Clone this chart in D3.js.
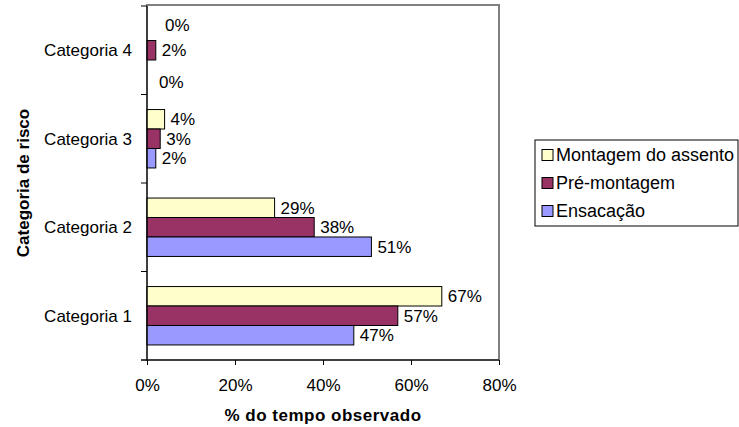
<!DOCTYPE html>
<html>
<head>
<meta charset="utf-8">
<script src="https://cdn.jsdelivr.net/npm/d3@7"></script>
<style>
  html, body { margin: 0; padding: 0; background: #fff; }
  svg { display: block; font-family: "Liberation Sans", Arial, sans-serif; }
</style>
</head>
<body>
<svg id="chart" width="739" height="427"></svg>
<script>
// Risk categories, listed top to bottom as drawn
const categories = ["Categoria 4", "Categoria 3", "Categoria 2", "Categoria 1"];
// Series, listed top to bottom inside each group
const seriesNames = ["Montagem do assento", "Pré-montagem", "Ensacação"];
const seriesColors = ["#FFFFCC", "#993366", "#9999FF"];
// Share of observed time (%) per category, one array per series
const montagemValues = [0, 4, 29, 67];
const preMontagemValues = [2, 3, 38, 57];
const ensacacaoValues = [0, 2, 51, 47];
const xTicks = [0, 20, 40, 60, 80];

const seriesValues = [montagemValues, preMontagemValues, ensacacaoValues];

const svg = d3.select("#chart");
const plot = { left: 147, right: 499, top: 6, bottom: 360 };

const x = d3.scaleLinear().domain([0, 80]).range([plot.left, plot.right]);
const y = d3.scaleBand().domain(categories).range([plot.top, plot.bottom]).padding(0);
const bw = y.bandwidth();
const ySeries = d3.scaleBand().domain(seriesNames)
  .range([bw * 0.17, bw * 0.83]).padding(0);

// Plot frame (grey top and right edges)
svg.append("rect")
  .attr("x", plot.left).attr("y", plot.top - 1)
  .attr("width", plot.right - plot.left).attr("height", plot.bottom - plot.top + 1)
  .attr("fill", "none").attr("stroke", "#808080").attr("stroke-width", 2);

// Bars
const rows = [];
categories.forEach((c, ci) => {
  seriesNames.forEach((s, si) => {
    rows.push({ cat: c, series: s, si, value: seriesValues[si][ci] });
  });
});

const groups = svg.append("g");
groups.selectAll("rect.bar").data(rows).enter().append("rect")
  .attr("class", "bar")
  .attr("x", x(0))
  .attr("y", d => y(d.cat) + ySeries(d.series))
  .attr("width", d => x(d.value) - x(0))
  .attr("height", ySeries.bandwidth())
  .attr("fill", d => seriesColors[d.si])
  .attr("stroke", d => d.value > 0 ? "#000" : "none")
  .attr("stroke-width", 1);

// Value labels; labels of empty bars are nudged away from the group centre
groups.selectAll("text.val").data(rows).enter().append("text")
  .attr("class", "val")
  .attr("x", d => x(d.value) + 6 + (d.value === 0 ? (d.si === 0 ? 12 : 6) : 0))
  .attr("y", d => {
    const cy = y(d.cat) + ySeries(d.series) + ySeries.bandwidth() / 2;
    if (d.value !== 0) return cy;
    return d.si === 0 ? cy - 6 : cy + 12;
  })
  .attr("dy", "0.35em")
  .attr("font-size", 17)
  .attr("fill", "#000")
  .text(d => d.value + "%");

// Y axis
const yAxis = svg.append("g").attr("transform", `translate(${plot.left},0)`);
yAxis.append("line")
  .attr("x1", 0).attr("x2", 0).attr("y1", plot.top).attr("y2", plot.bottom)
  .attr("stroke", "#000");
const yBounds = categories.map(c => y(c)).concat([plot.bottom]);
yAxis.selectAll("line.tick").data(yBounds).enter().append("line")
  .attr("class", "tick")
  .attr("x1", -6).attr("x2", 0).attr("y1", d => d).attr("y2", d => d)
  .attr("stroke", "#000");
yAxis.selectAll("text").data(categories).enter().append("text")
  .attr("x", -15)
  .attr("y", d => y(d) + bw / 2)
  .attr("dy", "0.35em")
  .attr("text-anchor", "end")
  .attr("font-size", 17)
  .text(d => d);

// X axis
const xAxis = svg.append("g").attr("transform", `translate(0,${plot.bottom})`)
  .call(d3.axisBottom(x).tickValues(xTicks).tickSize(5).tickPadding(14)
    .tickFormat(d => d + "%"));
xAxis.select(".domain").attr("stroke", "#000").attr("d", `M${plot.left - 6},0H${plot.right}`);
xAxis.selectAll(".tick line").attr("stroke", "#000");
xAxis.selectAll(".tick text")
  .attr("font-size", 17).attr("font-family", "Liberation Sans, Arial, sans-serif")
  .attr("fill", "#000");

// Axis titles
svg.append("text")
  .attr("x", (plot.left + plot.right) / 2)
  .attr("y", 421)
  .attr("text-anchor", "middle")
  .attr("font-size", 17).attr("font-weight", "bold")
  .attr("letter-spacing", "0.5px")
  .text("% do tempo observado");

svg.append("text")
  .attr("transform", `translate(29,${(plot.top + plot.bottom) / 2}) rotate(-90)`)
  .attr("text-anchor", "middle")
  .attr("font-size", 17).attr("font-weight", "bold")
  .text("Categoria de risco");

// Legend
const legend = svg.append("g").attr("transform", "translate(535,140)");
legend.append("rect")
  .attr("x", 0).attr("y", 0).attr("width", 203).attr("height", 86)
  .attr("fill", "#fff").attr("stroke", "#000");
const legendRow = d3.scaleBand().domain(seriesNames).range([1, 85]);
const items = legend.selectAll("g.item").data(seriesNames).enter().append("g")
  .attr("class", "item")
  .attr("transform", d => `translate(0,${legendRow(d) + legendRow.bandwidth() / 2})`);
items.append("rect")
  .attr("x", 7).attr("y", -5.5).attr("width", 11).attr("height", 11)
  .attr("fill", (d, i) => seriesColors[i]).attr("stroke", "#000");
items.append("text")
  .attr("x", 21).attr("dy", "0.35em")
  .attr("font-size", 18)
  .text(d => d);
</script>
</body>
</html>
